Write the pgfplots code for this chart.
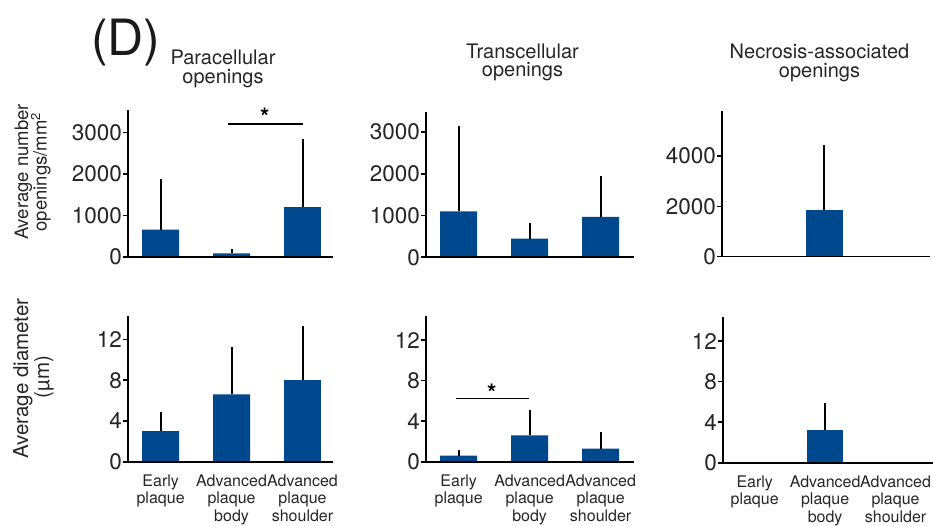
\documentclass[border=0pt]{standalone}
\usepackage{fontspec}
\setmainfont{TeX Gyre Heros}
\usepackage{pgfplots}
\pgfplotsset{compat=1.18}
\definecolor{barblue}{HTML}{00488D}
\pgfplotsset{
  panel/.style={
    scale only axis, anchor=south west, clip=false, axis on top,
    axis x line*=bottom, axis y line*=left,
    ymin=0,
    axis line style={line width=1.6pt, black},
    tick align=outside, major tick length=5pt,
    ytick style={line width=1.6pt, black},
    xtick style={draw=none},
    scaled y ticks=false,
    /pgf/number format/assume math mode=true,
    /pgf/number format/1000 sep={},
    yticklabel style={font=\fontsize{22.5}{24}\selectfont, inner sep=1pt, text=black!85},
    xticklabel style={font=\fontsize{16}{17.5}\selectfont, align=center, inner sep=0pt, anchor=north, yshift=-7.5pt, text=black!85},
  },
  toprow/.style={panel, xtick=\empty},
  botrow/.style={panel, xtick={0,1,2},
    xticklabels={Early\\plaque, Advanced\\plaque\\body, Advanced\\plaque\\shoulder},
    ymax=14.3, ytick={0,4,8,12}},
  bars/.style={ybar, bar width=0.52, fill=barblue, draw=none,
    error bars/.cd, y dir=plus, y explicit,
    error bar style={line width=2pt, black},
    error mark options={line width=2pt, mark size=2.2pt, black}},
  sig/.style={black, line width=1.5pt, mark=none, forget plot},
}
\tikzset{
  ttl/.style={anchor=base, inner sep=0pt, font=\fontsize{20}{20}\selectfont, text=black!85},
  ylab/.style={anchor=base, inner sep=0pt, rotate=90, text=black!85},
  star/.style={anchor=north, inner sep=0pt, font=\fontsize{24}{24}\selectfont\bfseries},
}
\begin{document}
\begin{tikzpicture}
\useasboundingbox (0,0) rectangle (933pt,-526pt);
% ---- titles
\node[anchor=base west, inner sep=0pt, font=\fontsize{50}{50}\selectfont, text=black!90] at (91pt,-56pt) {(D)};
\node[ttl] at (223pt,-65pt) {Paracellular};
\node[ttl] at (223pt,-84pt) {openings};
\node[ttl] at (522.5pt,-58.3pt) {Transcellular};
\node[ttl] at (522.5pt,-77pt) {openings};
\node[ttl] at (819.5pt,-58.5pt) {Necrosis-associated};
\node[ttl] at (819.5pt,-77.5pt) {openings};
% ---- y labels
\node[ylab, font=\fontsize{18.5}{18}\selectfont] at (28pt,-172pt) {Average number};
\node[ylab, font=\fontsize{18.5}{18}\selectfont] at (46.5pt,-172pt) {openings/mm\textsuperscript{2}};
\node[ylab, font=\fontsize{20.5}{20}\selectfont] at (28pt,-378.5pt) {Average diameter};
\node[ylab, font=\fontsize{20.5}{20}\selectfont] at (49pt,-377pt) {(µm)};

% ---- top row
\begin{axis}[toprow, at={(128pt,-257pt)}, width=205pt, height=147pt,
  xmin=-0.46, xmax=2.43, ymax=3540, ytick={0,1000,2000,3000}]
\addplot[bars] coordinates {(0,660) +- (0,1160) (1,90) +- (0,60) (2,1200) +- (0,1600)};
\addplot[sig] coordinates {(0.95,3200) (2.0,3200)};
\node[star] at (axis cs:1.47,3600) {*};
\end{axis}

\begin{axis}[toprow, at={(426pt,-257.3pt)}, width=208pt, height=145.6pt,
  xmin=-0.46, xmax=2.47, ymax=3490, ytick={0,1000,2000,3000}]
\addplot[bars] coordinates {(0,1100) +- (0,2000) (1,450) +- (0,320) (2,970) +- (0,930)};
\end{axis}

\begin{axis}[toprow, at={(722pt,-256.7pt)}, width=208pt, height=145.7pt,
  xmin=-0.44, xmax=2.49, ymax=5790, ytick={0,2000,4000}]
\addplot[bars] coordinates {(1,1850) +- (0,2500)};
\end{axis}

% ---- bottom row
\begin{axis}[botrow, at={(128pt,-461.7pt)}, width=205pt, height=145.7pt,
  xmin=-0.46, xmax=2.43]
\addplot[bars] coordinates {(0,3.0) +- (0,1.7) (1,6.6) +- (0,4.4) (2,8.0) +- (0,5.1)};
\end{axis}

\begin{axis}[botrow, at={(426pt,-461.7pt)}, width=208pt, height=145.7pt,
  xmin=-0.46, xmax=2.47, ymax=14.37]
\addplot[bars] coordinates {(0,0.6) +- (0,0.3) (1,2.6) +- (0,2.3) (2,1.3) +- (0,1.4)};
\addplot[sig] coordinates {(-0.04,6.25) (0.99,6.25)};
\node[star] at (axis cs:0.465,7.65) {*};
\end{axis}

\begin{axis}[botrow, at={(723pt,-462.7pt)}, width=212pt, height=145.4pt,
  xmin=-0.45, xmax=2.56, ymax=14.34]
\addplot[bars] coordinates {(1,3.2) +- (0,2.5)};
\end{axis}
\end{tikzpicture}
\end{document}
